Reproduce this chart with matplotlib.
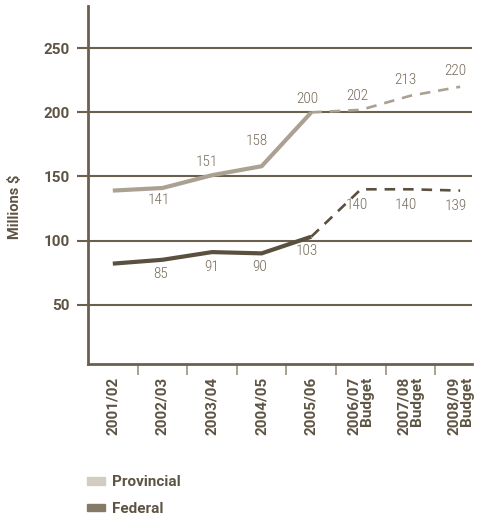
import matplotlib
matplotlib.use("Agg")
import matplotlib.pyplot as plt
from matplotlib.patches import Patch

# --- Data (millions $) ---
years = ["2001/02", "2002/03", "2003/04", "2004/05", "2005/06",
         "2006/07\nBudget", "2007/08\nBudget", "2008/09\nBudget"]
provincial = [139, 141, 151, 158, 200, 202, 213, 220]
federal = [82, 85, 91, 90, 103, 140, 140, 139]
last_actual = 4  # 2005/06 is the last actual year, the rest are budgets

# which points get a value label (first years are left unlabelled)
provincial_labelled = [False, True, True, True, True, True, True, True]
federal_labelled = [False, True, True, True, True, True, True, True]

# --- Styling ---
PROV_LINE = "#aaa192"
FED_LINE = "#5a5040"
PROV_SWATCH = "#d3ccc1"
FED_SWATCH = "#857a66"
AXIS_COL = "#6b604f"
TEXT_COL = "#5e5444"
VALUE_COL = "#756b5a"

# label offsets in pixels (dx, dy), dy positive = up
prov_offsets = [(0, 0), (-4, -12), (-5, 13), (-5, 25), (-4, 13), (-4, 14), (-5, 16), (-5, 16)]
fed_offsets = [(0, 0), (-2, -14), (0, -15), (-2, -14), (-4, -14), (-4, -16), (-5, -16), (-4, -15)]

plt.rcParams["font.family"] = ["Roboto", "DejaVu Sans"]
num_font = ["Roboto Condensed", "DejaVu Sans"]

fig = plt.figure(figsize=(4.82, 5.18), dpi=100)
ax = fig.add_axes([88 / 482, 1 - 364 / 518, 384 / 482, 358 / 518])

x = list(range(len(years)))

# solid for actuals, dashed for budget years
ax.plot(x[:last_actual + 1], provincial[:last_actual + 1], color=PROV_LINE,
        lw=3.0, solid_capstyle="butt", zorder=3)
ax.plot(x[last_actual:], provincial[last_actual:], color=PROV_LINE,
        lw=1.9, dashes=(4, 3), zorder=3)
ax.plot(x[:last_actual + 1], federal[:last_actual + 1], color=FED_LINE,
        lw=3.0, solid_capstyle="butt", zorder=3)
ax.plot(x[last_actual:], federal[last_actual:], color=FED_LINE,
        lw=1.9, dashes=(4, 3), zorder=3)

for i, v in enumerate(provincial):
    if provincial_labelled[i]:
        ax.annotate(str(v), (i, v), xytext=prov_offsets[i], textcoords="offset pixels",
                    ha="center", va="center", fontsize=11, family=num_font,
                    fontweight="light", color=VALUE_COL)
for i, v in enumerate(federal):
    if federal_labelled[i]:
        ax.annotate(str(v), (i, v), xytext=fed_offsets[i], textcoords="offset pixels",
                    ha="center", va="center", fontsize=11, family=num_font,
                    fontweight="light", color=VALUE_COL)

ax.set_xlim(-0.5, 7.24)
ax.set_ylim(3.7, 283)

ax.set_yticks([50, 100, 150, 200, 250])
ax.yaxis.grid(True, color=AXIS_COL, lw=1.5)
ax.set_axisbelow(True)
ax.tick_params(axis="y", length=8, width=1.5, color=AXIS_COL, pad=5,
               labelsize=11, labelcolor=TEXT_COL)
for lab in ax.get_yticklabels():
    lab.set_fontweight("bold")

# category boundaries carry the ticks, names sit in between
ax.set_xticks([i + 0.5 for i in range(len(years) - 1)])
ax.set_xticklabels([])
ax.tick_params(axis="x", length=8, width=1.2, color="#9a907f")
ax.set_xticks(x, minor=True)
ax.set_xticklabels(years, minor=True, rotation=90, ha="center", va="top",
                   multialignment="right", linespacing=0.9)
ax.tick_params(axis="x", which="minor", length=0, pad=9, labelsize=11,
               labelcolor=TEXT_COL)
for lab in ax.get_xticklabels(minor=True):
    lab.set_fontweight("bold")

for side in ("top", "right"):
    ax.spines[side].set_visible(False)
for side in ("left", "bottom"):
    ax.spines[side].set_color(AXIS_COL)
    ax.spines[side].set_linewidth(2)

ax.set_ylabel("Millions $", fontsize=10.5, fontweight="bold", color=TEXT_COL)
ax.yaxis.set_label_coords(-0.171, 0.4385)

handles = [Patch(color=PROV_SWATCH, label="Provincial"),
           Patch(color=FED_SWATCH, label="Federal")]
leg = fig.legend(handles=handles, loc="center left",
                 bbox_to_anchor=(87 / 482, 1 - 495.5 / 518),
                 frameon=False, fontsize=11, handlelength=1.18, handleheight=0.4,
                 handletextpad=0.46, labelspacing=0.83, borderpad=0, borderaxespad=0)
for t in leg.get_texts():
    t.set_color(TEXT_COL)
    t.set_fontweight("bold")

fig.savefig("out.png", dpi=100)
